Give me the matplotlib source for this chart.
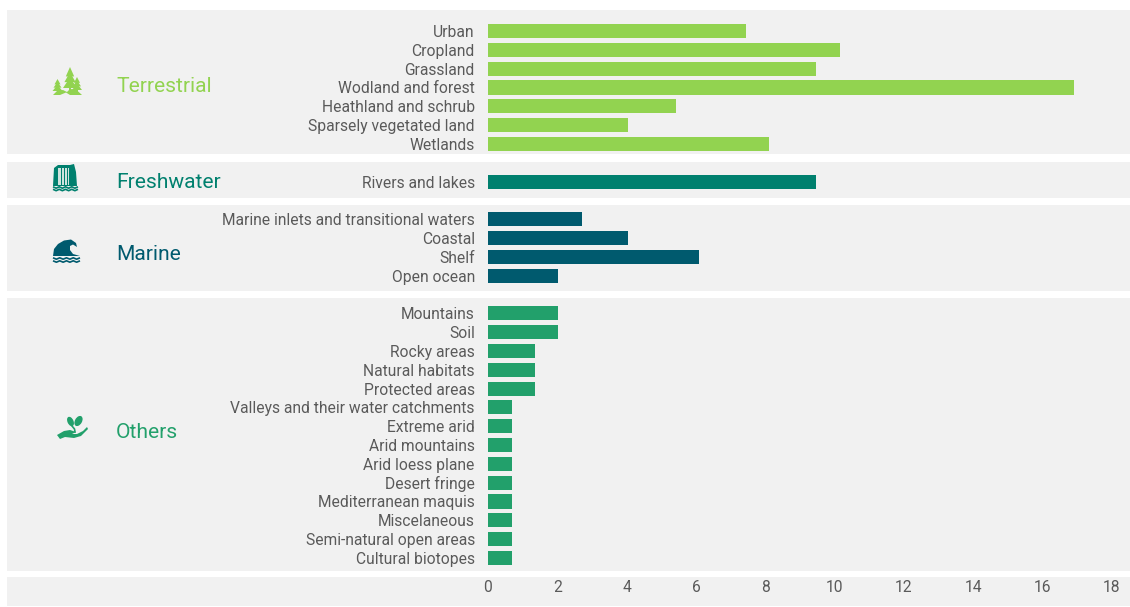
import matplotlib
matplotlib.use('Agg')
import matplotlib.pyplot as plt
from matplotlib.patches import Rectangle, Polygon, Ellipse

plt.rcParams['font.family'] = ['Roboto', 'DejaVu Sans']

W, H = 1130, 607
GREY = '#5a5a5a'
PANEL = '#f1f1f1'

terrestrial = ['Urban', 'Cropland', 'Grassland', 'Wodland and forest',
               'Heathland and schrub', 'Sparsely vegetated land', 'Wetlands']
terrestrial_vals = [7.43, 10.14, 9.46, 16.89, 5.41, 4.05, 8.11]
freshwater = ['Rivers and lakes']
freshwater_vals = [9.46]
marine = ['Marine inlets and transitional waters', 'Coastal', 'Shelf', 'Open ocean']
marine_vals = [2.70, 4.05, 6.08, 2.03]
others = ['Mountains', 'Soil', 'Rocky areas', 'Natural habitats', 'Protected areas',
          'Valleys and their water catchments', 'Extreme arid', 'Arid mountains',
          'Arid loess plane', 'Desert fringe', 'Mediterranean maquis', 'Miscelaneous',
          'Semi-natural open areas', 'Cultural biotopes']
others_vals = [2.03, 2.03, 1.35, 1.35, 1.35, 0.68, 0.68, 0.68, 0.68, 0.68, 0.68, 0.68, 0.68, 0.68]

groups = [
    ('Terrestrial', terrestrial, terrestrial_vals, '#92d350'),
    ('Freshwater', freshwater, freshwater_vals, '#00806e'),
    ('Marine', marine, marine_vals, '#005a6e'),
    ('Others', others, others_vals, '#22a06b'),
]
ticks = list(range(0, 20, 2))

# grey bands behind each group and the axis, given as (top, bottom) in pixels
bands = [(10, 154), (162, 198), (205, 291), (298, 571), (577, 606)]
title_y = [86, 182, 254, 432]
title_x = [116.5, 116.5, 116.5, 115.5]

fig = plt.figure(figsize=(W / 100, H / 100), dpi=100)

# overlay in pixel coordinates for the bands, group names and icons
bg = fig.add_axes([0, 0, 1, 1])
bg.set_xlim(0, W)
bg.set_ylim(H, 0)
bg.axis('off')
for top, bottom in bands:
    bg.add_patch(Rectangle((7, top), 1123, bottom - top, color=PANEL, lw=0))


def tree(cx, base, w, h, color):
    # three stacked triangles on a trunk
    for i, (a, b) in enumerate([(0.0, 0.45), (0.25, 0.72), (0.5, 1.0)]):
        half = w / 2 * (0.6 + 0.2 * i)
        bg.add_patch(Polygon([(cx, base - h + a * h), (cx - half, base - h + b * h),
                              (cx + half, base - h + b * h)], color=color, lw=0))
    bg.add_patch(Rectangle((cx - 0.8, base - 2), 1.6, 4, color=color, lw=0))


def icon_forest(color):
    tree(70, 88, 14, 21, color)
    tree(57.5, 91, 10, 12, color)
    tree(77, 90, 10, 13, color)
    bg.add_patch(Polygon([(53, 95), (57, 91), (63, 90), (67, 92), (70, 89), (76, 89.5),
                          (82, 95), (70, 95), (66, 92.5), (60, 95)], color=color, lw=0))


def wavy(x0, x1, y, color, lw=1.2):
    xs = [x0 + (x1 - x0) * i / 8 for i in range(9)]
    ys = [y + (0.7 if i % 2 else -0.7) for i in range(9)]
    bg.plot(xs, ys, color=color, lw=lw, solid_capstyle='butt')


def icon_falls(color):
    bg.add_patch(Polygon([(53, 186), (54, 168), (58, 165), (70, 165), (74, 164), (76, 172), (77, 186)],
                         color=color, lw=0))
    bg.add_patch(Rectangle((58, 168), 11, 17, color='#cfe3de', lw=0))
    for x in (60.5, 63.5, 66.5):
        bg.add_patch(Rectangle((x, 168), 1, 17, color=color, lw=0))
    wavy(53, 78, 187.5, color)
    wavy(53, 78, 190, color)


def icon_wave(color):
    bg.add_patch(Polygon([(53, 256), (54, 249), (58, 244), (64, 240.5), (71, 239.5), (76, 243),
                          (77, 247), (73, 244.5), (70, 246), (70, 250), (73, 254), (80, 256)],
                         color=color, lw=0))
    wavy(53, 80, 258.5, color)
    wavy(53, 80, 261.5, color)


def icon_hand(color):
    bg.add_patch(Ellipse((70.5, 421.5), 6, 10, angle=-25, color=color, lw=0))
    bg.add_patch(Ellipse((78.5, 421), 7, 11, angle=30, color=color, lw=0))
    bg.plot([72, 74.5, 75], [426, 429, 432], color=color, lw=1.2)
    bg.add_patch(Polygon([(57, 435), (64, 431), (70, 430), (76, 432), (72, 434), (77, 434),
                          (83, 431), (87, 427), (88, 429), (81, 436), (74, 438), (65, 437),
                          (60, 439)], color=color, lw=0))


icons = [icon_forest, icon_falls, icon_wave, icon_hand]

for (name, _, _, color), y, x, icon in zip(groups, title_y, title_x, icons):
    bg.text(x, y, name, color=color, fontsize=15.1, va='center', ha='left')
    icon(color)

# bar axes: one row per category, with an empty row between the groups
top_px, row_px = 31, 18.82
n_rows = sum(len(g[1]) for g in groups) + len(groups) - 1
y0 = 1 - (top_px - row_px / 2) / H
y1 = 1 - (top_px + row_px * (n_rows - 0.5)) / H
ax = fig.add_axes([488 / W, y1, (1112 - 488) / W, y0 - y1])
ax.patch.set_alpha(0)

positions = []
labels = []
row = 0
for _, names, vals, color in groups:
    pos = list(range(row, row + len(names)))
    ax.barh(pos, vals, height=0.75, color=color, lw=0)
    positions += pos
    labels += names
    row += len(names) + 1

ax.set_xlim(0, 18)
ax.set_ylim(n_rows - 0.5, -0.5)
ax.set_yticks(positions)
ax.set_yticklabels(labels, fontsize=11.25, color=GREY)
ax.set_xticks(ticks)
ax.set_xticklabels(ticks, fontsize=11.25, color=GREY)
ax.tick_params(axis='y', length=0, pad=9.5)
ax.tick_params(axis='x', length=0, pad=9)
for spine in ax.spines.values():
    spine.set_visible(False)

fig.savefig('out.png', dpi=100, facecolor='white')
